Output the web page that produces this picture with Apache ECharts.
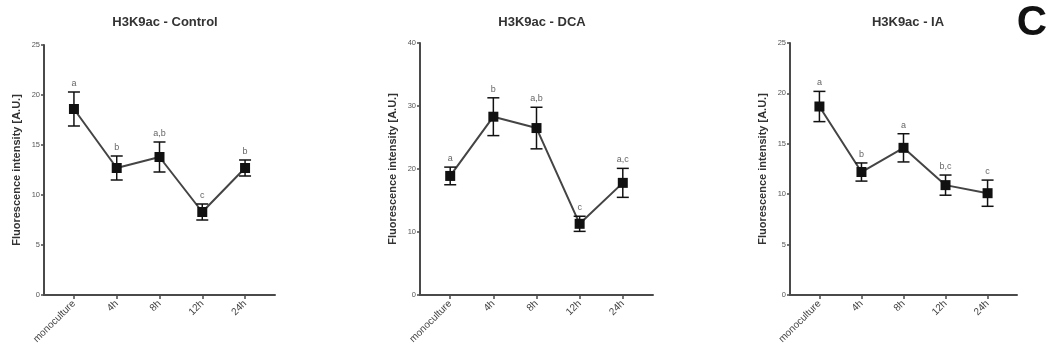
<!DOCTYPE html>
<html><head><meta charset="utf-8">
<script src="https://cdn.jsdelivr.net/npm/echarts@6/dist/echarts.min.js"></script>
<style>html,body{margin:0;padding:0;background:#fff}#c{width:1049px;height:353px}</style>
</head><body><div id="c"></div>
<script>
var categories = ['monoculture', '4h', '8h', '12h', '24h'];
var panelTitles = ['H3K9ac - Control', 'H3K9ac - DCA', 'H3K9ac - IA'];
var yAxisTitle = 'Fluorescence intensity [A.U.]';
var yMaxes = [25, 40, 25];
var yIntervals = [5, 10, 5];

var controlMean = [18.6, 12.7, 13.8, 8.3, 12.7];
var controlErr = [1.7, 1.2, 1.5, 0.8, 0.8];
var controlLetters = ['a', 'b', 'a,b', 'c', 'b'];

var dcaMean = [18.9, 28.3, 26.5, 11.3, 17.8];
var dcaErr = [1.4, 3.0, 3.3, 1.2, 2.3];
var dcaLetters = ['a', 'b', 'a,b', 'c', 'a,c'];

var iaMean = [18.7, 12.2, 14.6, 10.9, 10.1];
var iaErr = [1.5, 0.9, 1.4, 1.0, 1.3];
var iaLetters = ['a', 'b', 'a', 'b,c', 'c'];

var means = [controlMean, dcaMean, iaMean];
var errs = [controlErr, dcaErr, iaErr];
var letters = [controlLetters, dcaLetters, iaLetters];

var grids = [
  {left: 44, top: 45, width: 231, height: 250},
  {left: 420, top: 43, width: 233, height: 252},
  {left: 790, top: 43, width: 227, height: 252}
];
var titleX = [160, 537, 903];
var axisCol = '#4a4a4a';
var idx = [0, 1, 2, 3, 4];

var option = {
  animation: false,
  backgroundColor: '#fff',
  title: panelTitles.map(function (t, i) {
    return {text: t, left: titleX[i], top: 11, textAlign: 'center',
      textStyle: {fontSize: 13, fontWeight: 'bold', color: '#333', fontFamily: 'Liberation Sans'}};
  }),
  graphic: [{type: 'text', right: 2, top: 2,
    style: {text: 'C', font: 'bold 42px Liberation Sans', fill: '#111'}}],
  grid: grids,
  xAxis: grids.map(function (g, i) {
    return {type: 'value', gridIndex: i, min: -0.7, max: 4.7,
      splitLine: {show: false},
      axisLine: {show: true, lineStyle: {color: axisCol, width: 2}},
      axisTick: {show: true, customValues: idx, length: 4, lineStyle: {color: axisCol, width: 1.5}},
      axisLabel: {customValues: idx, rotate: 45, fontSize: 10, color: '#444', margin: 7,
        fontFamily: 'Liberation Sans',
        formatter: function (v) { return categories[Math.round(v)]; }}
    };
  }),
  yAxis: grids.map(function (g, i) {
    return {type: 'value', gridIndex: i, min: 0, max: yMaxes[i], interval: yIntervals[i],
      name: yAxisTitle, nameLocation: 'middle', nameGap: 22, nameRotate: 90,
      nameTextStyle: {fontSize: 11, fontWeight: 'bold', color: '#333', fontFamily: 'Liberation Sans'},
      splitLine: {show: false},
      axisLine: {show: true, onZero: false, lineStyle: {color: axisCol, width: 2}},
      axisTick: {show: true, length: 3, lineStyle: {color: axisCol, width: 1.5}},
      axisLabel: {fontSize: 7.5, color: '#555', margin: 4, fontFamily: 'Liberation Sans'}
    };
  }),
  series: []
};

[0, 1, 2].forEach(function (p) {
  option.series.push({
    type: 'line', xAxisIndex: p, yAxisIndex: p, z: 3,
    data: means[p].map(function (m, k) { return [k, m]; }),
    symbol: 'rect', symbolSize: 10, itemStyle: {color: '#111'},
    lineStyle: {color: '#444', width: 2}
  });
  option.series.push({
    type: 'custom', xAxisIndex: p, yAxisIndex: p, z: 4,
    data: means[p].map(function (m, k) { return [k, m, errs[p][k]]; }),
    renderItem: function (params, api) {
      var x = api.value(0), m = api.value(1), e = api.value(2);
      var hi = api.coord([x, m + e]), lo = api.coord([x, m - e]);
      var w = 6;
      var st = {stroke: '#111', lineWidth: 1.5};
      return {type: 'group', children: [
        {type: 'line', shape: {x1: hi[0], y1: hi[1], x2: lo[0], y2: lo[1]}, style: st},
        {type: 'line', shape: {x1: hi[0] - w, y1: hi[1], x2: hi[0] + w, y2: hi[1]}, style: st},
        {type: 'line', shape: {x1: lo[0] - w, y1: lo[1], x2: lo[0] + w, y2: lo[1]}, style: st},
        {type: 'text', x: hi[0], y: hi[1] - 4,
          style: {text: letters[p][params.dataIndex], textAlign: 'center', textVerticalAlign: 'bottom',
            font: '9px Liberation Sans', fill: '#666'}}
      ]};
    }
  });
});

var chart = echarts.init(document.getElementById('c'), null, {renderer: 'canvas'});
chart.setOption(option);
</script></body></html>
